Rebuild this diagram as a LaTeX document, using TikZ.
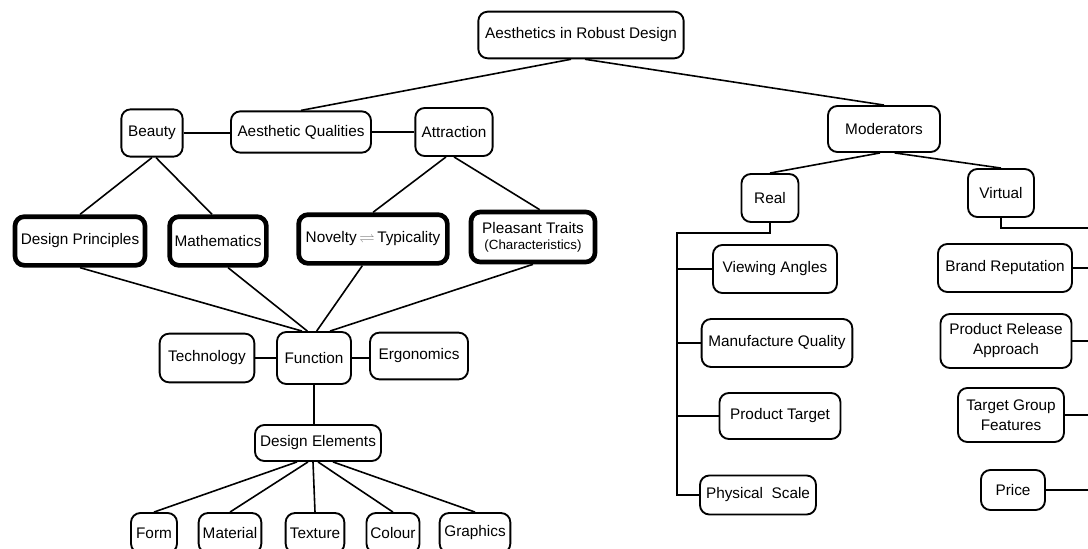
\documentclass[tikz,border=0pt]{standalone}
\usepackage{fontspec}
\setmainfont{Liberation Sans}
\usepackage{amsmath}
\usepackage{amssymb}

\begin{document}
\begin{tikzpicture}[x=0.75pt,y=-0.75pt,
    box/.style={draw,line width=1.4pt,rounded corners=7pt,align=center,inner sep=1pt,
        font=\fontsize{11.5}{15}\selectfont},
    bold box/.style={box,line width=3.5pt},
    link/.style={line width=1.2pt}]
    \useasboundingbox (0,0) rectangle (1088,549);

    % top of the tree
    \node[box,minimum width=154pt,minimum height=35pt] (top) at (581,35) {Aesthetics in Robust Design};
    \node[box,minimum width=46pt,minimum height=35.5pt] (beauty) at (152,133) {Beauty};
    \node[box,minimum width=105pt,minimum height=31pt] (aq) at (301,132) {Aesthetic Qualities};
    \node[box,minimum width=58pt,minimum height=36pt] (attr) at (454,132) {Attraction};

    \node[bold box,minimum width=97.5pt,minimum height=36.5pt] (dp) at (80,241) {Design Principles};
    \node[bold box,minimum width=72.5pt,minimum height=36.5pt] (math) at (218,241) {Mathematics};
    \node[bold box,minimum width=111.5pt,minimum height=36.5pt] (nov) at (373,239)
        {Novelty\,{\color{gray}$\rightleftharpoons$}\,Typicality};
    \node[bold box,minimum width=93pt,minimum height=37.5pt] (pleas) at (533,237)
        {Pleasant Traits\\[-3pt]{\fontsize{10}{11}\selectfont(Characteristics)}};

    \node[box,minimum width=71pt,minimum height=36.5pt] (tech) at (207,358) {Technology};
    \node[box,minimum width=55.5pt,minimum height=39pt] (func) at (314,358) {Function};
    \node[box,minimum width=73.5pt,minimum height=35pt] (ergo) at (419,356) {Ergonomics};
    \node[box,minimum width=94.5pt,minimum height=27pt] (de) at (318,443) {Design Elements};

    \node[box,minimum width=34.5pt,minimum height=30pt] (form) at (154,533) {Form};
    \node[box,minimum width=47pt,minimum height=30pt] (material) at (230,533) {Material};
    \node[box,minimum width=44pt,minimum height=30pt] (texture) at (315,533) {Texture};
    \node[box,minimum width=39.75pt,minimum height=30pt] (colour) at (393,533) {Colour};
    \node[box,minimum width=53pt,minimum height=30pt] (graphics) at (475,533) {Graphics};

    % moderators
    \node[box,minimum width=84pt,minimum height=34.5pt] (mod) at (884,129) {Moderators};
    \node[box,minimum width=42.75pt,minimum height=36pt] (real) at (770,198) {Real};
    \node[box,minimum width=49.5pt,minimum height=36pt] (virt) at (1001,193) {Virtual};

    \node[box,minimum width=93pt,minimum height=36pt] (va) at (775,269) {Viewing Angles};
    \node[box,minimum width=113pt,minimum height=36pt] (mq) at (777,343) {Manufacture Quality};
    \node[box,minimum width=90.75pt,minimum height=34.5pt] (pt) at (780,416) {Product Target};
    \node[box,minimum width=87pt,minimum height=29.25pt] (ps) at (758,495) {Physical\ \ Scale};

    \node[box,minimum width=100.5pt,minimum height=36pt] (br) at (1005,268) {Brand Reputation};
    \node[box,minimum width=98.25pt,minimum height=40.5pt] (pra) at (1006,341) {Product Release\\Approach};
    \node[box,minimum width=79.5pt,minimum height=40.5pt] (tgf) at (1011,415) {Target Group\\Features};
    \node[box,minimum width=48pt,minimum height=30pt] (price) at (1013,490) {Price};

    \coordinate (rl) at (677,233);
    \coordinate (vr) at (1095,228);

    % connectors, left part
    \draw[link] ([xshift=-7.5pt]top.south) -- (aq.north);
    \draw[link] ([xshift=3pt]top.south) -- (mod.north);
    \draw[link] (beauty.east) -- (beauty.east -| aq.west);
    \draw[link] (aq.east) -- (attr.west);
    \draw[link] (beauty.south) -- (dp.north);
    \draw[link] ([xshift=3pt]beauty.south) -- ([xshift=-4.5pt]math.north);
    \draw[link] ([xshift=-6pt]attr.south) -- (nov.north);
    \draw[link] (attr.south) -- ([xshift=5pt]pleas.north);
    \draw[link] (dp.south) -- ([xshift=-9pt]func.north);
    \draw[link] ([xshift=7.5pt]math.south) -- ([xshift=-5pt]func.north);
    \draw[link] ([xshift=-8pt]nov.south) -- ([xshift=2pt]func.north);
    \draw[link] (pleas.south) -- ([xshift=12pt]func.north);
    \draw[link] (tech.east) -- (func.west);
    \draw[link] (func.east) -- (func.east -| ergo.west);
    \draw[link] (func.south) -- (func.south |- de.north);
    \draw[link] ([xshift=-15.75pt]de.south) -- (form.north);
    \draw[link] ([xshift=-7.5pt]de.south) -- (material.north);
    \draw[link] ([xshift=-3.75pt]de.south) -- (texture.north);
    \draw[link] (de.south) -- (colour.north);
    \draw[link] ([xshift=11.25pt]de.south) -- (graphics.north);

    % connectors, right part
    \draw[link] ([xshift=-3pt]mod.south) -- (real.north);
    \draw[link] ([xshift=8pt]mod.south) -- (virt.north);
    \draw[link] (real.south) |- (rl) -- (rl |- ps.west) -- (ps.west);
    \draw[link] (rl |- va.west) -- (va.west);
    \draw[link] (rl |- mq.west) -- (mq.west);
    \draw[link] (rl |- pt.west) -- (pt.west);
    \draw[link] (virt.south) |- (vr);
    \draw[link] (br.east) -- (br.east -| vr);
    \draw[link] (pra.east) -- (pra.east -| vr);
    \draw[link] (tgf.east) -- (tgf.east -| vr);
    \draw[link] (price.east) -- (price.east -| vr);
\end{tikzpicture}
\end{document}
